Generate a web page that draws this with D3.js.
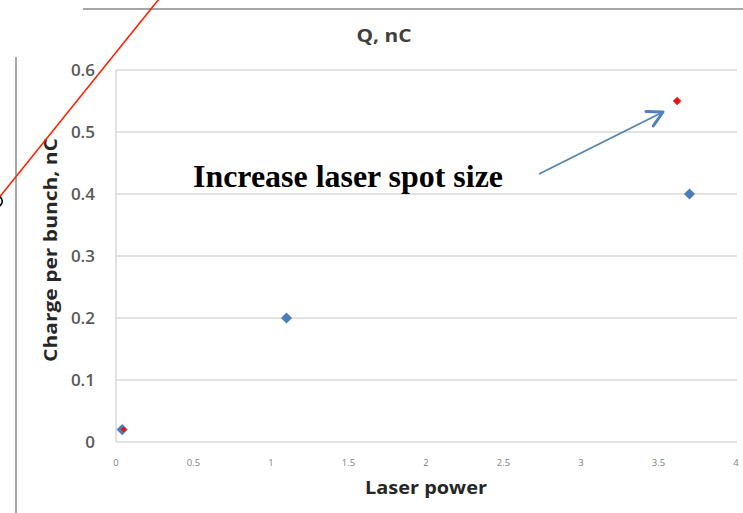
<!DOCTYPE html>
<html><head><meta charset="utf-8">
<script src="https://cdn.jsdelivr.net/npm/d3@7"></script>
<style>html,body{margin:0;padding:0;background:#fff;}svg{display:block;}</style>
</head><body>
<script>
const W = 743, H = 513;
const xTicks = [0, 0.5, 1, 1.5, 2, 2.5, 3, 3.5, 4];
const xTickLabels = ["0", "0.5", "1", "1.5", "2", "2.5", "3", "3.5", "4"];
const yTicks = [0, 0.1, 0.2, 0.3, 0.4, 0.5, 0.6];
const yTickLabels = ["0", "0.1", "0.2", "0.3", "0.4", "0.5", "0.6"];
const blueX = [0.04, 1.1, 3.7];
const blueY = [0.02, 0.2, 0.4];
const redX = [0.05, 3.62];
const redY = [0.02, 0.55];
const title = "Q, nC";
const xTitle = "Laser power";
const yTitle = "Charge per bunch, nC";
const annotation = "Increase laser spot size";

const svg = d3.select("body").append("svg").attr("width", W).attr("height", H);
const x = d3.scaleLinear().domain([0, 4]).range([116, 736]);
const y = d3.scaleLinear().domain([0, 0.6]).range([442, 70]);

// frame lines of the slide
svg.append("line").attr("x1", 83).attr("x2", 743).attr("y1", 9).attr("y2", 9)
  .attr("stroke", "#a6a6a6").attr("stroke-width", 2);
svg.append("line").attr("x1", 16).attr("x2", 16).attr("y1", 57).attr("y2", 513)
  .attr("stroke", "#a6a6a6").attr("stroke-width", 2);

// gridlines
svg.append("g").selectAll("line").data(yTicks).join("line")
  .attr("x1", x(0)).attr("x2", x(4) + 1).attr("y1", d => y(d)).attr("y2", d => y(d))
  .attr("stroke", "#d9d9d9").attr("stroke-width", 1.5);
svg.append("line").attr("x1", x(0)).attr("x2", x(0)).attr("y1", y(0.6)).attr("y2", y(0))
  .attr("stroke", "#d9d9d9").attr("stroke-width", 1.5);

// y tick labels
svg.append("g").selectAll("text").data(yTicks).join("text")
  .attr("x", 95).attr("y", d => y(d) + 6).attr("text-anchor", "end")
  .attr("font-family", "Open Sans, sans-serif").attr("font-size", 17).attr("font-weight", 600)
  .attr("fill", "#595959").text((d, i) => yTickLabels[i]);

// x tick labels
svg.append("g").selectAll("text").data(xTicks).join("text")
  .attr("x", d => x(d)).attr("y", 466).attr("text-anchor", "middle")
  .attr("font-family", "Open Sans, sans-serif").attr("font-size", 9.5)
  .attr("fill", "#7f7f7f").text((d, i) => xTickLabels[i]);

// titles
svg.append("text").attr("x", 384).attr("y", 42).attr("text-anchor", "middle")
  .attr("font-family", "Open Sans, sans-serif").attr("font-size", 18).attr("font-weight", 700)
  .attr("fill", "#404040").attr("textLength", 55).attr("lengthAdjust", "spacingAndGlyphs").text(title);
svg.append("text").attr("x", 426).attr("y", 494).attr("text-anchor", "middle")
  .attr("font-family", "Open Sans, sans-serif").attr("font-size", 18).attr("font-weight", 700)
  .attr("fill", "#262626").attr("textLength", 122).attr("lengthAdjust", "spacingAndGlyphs").text(xTitle);
svg.append("text").attr("transform", "translate(57,250) rotate(-90)").attr("text-anchor", "middle")
  .attr("font-family", "Open Sans, sans-serif").attr("font-size", 18).attr("font-weight", 700)
  .attr("fill", "#262626").attr("textLength", 224).attr("lengthAdjust", "spacingAndGlyphs").text(yTitle);

// annotation
svg.append("text").attr("x", 193).attr("y", 187)
  .attr("font-family", "Liberation Serif, Times New Roman, serif").attr("font-size", 31).attr("font-weight", 700)
  .attr("fill", "#000").attr("textLength", 310).attr("lengthAdjust", "spacingAndGlyphs").text(annotation);

// arrow
const arrowStart = [539, 174], arrowEnd = [663, 112];
svg.append("line").attr("x1", arrowStart[0]).attr("y1", arrowStart[1])
  .attr("x2", arrowEnd[0]).attr("y2", arrowEnd[1])
  .attr("stroke", "#4f81bd").attr("stroke-width", 1.8);
{
  const ang = Math.atan2(arrowEnd[1] - arrowStart[1], arrowEnd[0] - arrowStart[0]);
  const L = 17, a = 0.5;
  const p1 = [arrowEnd[0] - L * Math.cos(ang - a), arrowEnd[1] - L * Math.sin(ang - a)];
  const p2 = [arrowEnd[0] - L * Math.cos(ang + a), arrowEnd[1] - L * Math.sin(ang + a)];
  svg.append("path").attr("d", `M${p1}L${arrowEnd}L${p2}`)
    .attr("fill", "none").attr("stroke", "#4f81bd").attr("stroke-width", 3)
    .attr("stroke-linecap", "round").attr("stroke-linejoin", "round");
}

// points
const diamond = d3.symbol().type(d3.symbolDiamond2);
svg.append("g").selectAll("path").data(blueX.map((v, i) => [v, blueY[i]])).join("path")
  .attr("transform", d => `translate(${x(d[0])},${y(d[1])})`)
  .attr("d", diamond.size(80)()).attr("fill", "#4a7ebb");
svg.append("g").selectAll("path").data(redX.map((v, i) => [v, redY[i]])).join("path")
  .attr("transform", d => `translate(${x(d[0])},${y(d[1])})`)
  .attr("d", (d, i) => diamond.size(i === 0 ? 22 : 45)()).attr("fill", "#ee1111");

// red line overlay
svg.append("line").attr("x1", -2).attr("y1", 199).attr("x2", 159).attr("y2", -1)
  .attr("stroke", "#ff2200").attr("stroke-width", 1.6);
// partial glyph fragment at left edge (cut off by the slide edge)
svg.append("path").attr("d", "M0,197 Q3,199 2,203 L0,206")
  .attr("fill", "none").attr("stroke", "#000").attr("stroke-width", 1.6);
</script>
</body></html>
